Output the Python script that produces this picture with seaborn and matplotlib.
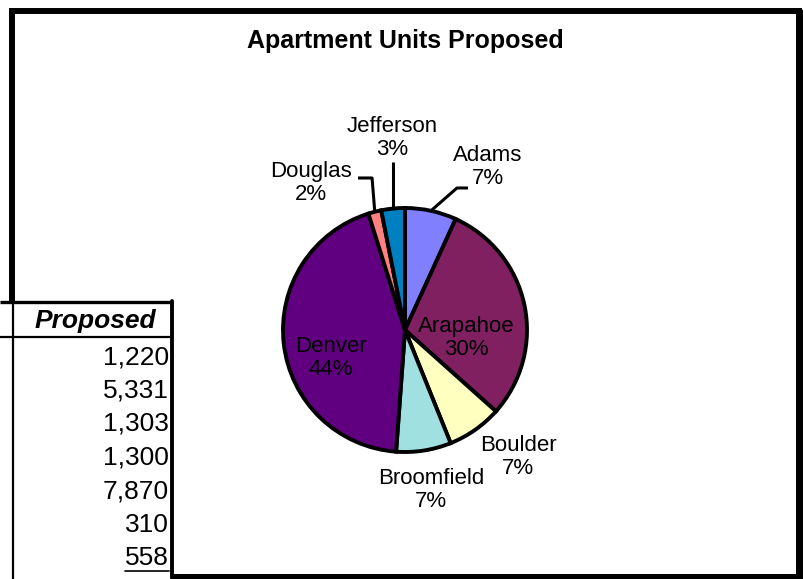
import matplotlib
matplotlib.use("Agg")
import matplotlib.pyplot as plt
from matplotlib.patches import Rectangle
import numpy as np
import seaborn as sns

# Apartment units proposed by county
counties = ["Adams", "Arapahoe", "Boulder", "Broomfield", "Denver", "Douglas", "Jefferson"]
units = [1220, 5331, 1303, 1300, 7870, 310, 558]
colors = ["#8080FF", "#802060", "#FFFFC0", "#A0E0E0", "#600080", "#FF8080", "#0080C0"]
title = "Apartment Units Proposed"
table_header = "Proposed"

sns.set_theme(style="white")
plt.rcParams["font.family"] = ["Liberation Sans", "DejaVu Sans"]
plt.rcParams["text.color"] = "black"

W, H = 804, 579
fig = plt.figure(figsize=(W / 100, H / 100), dpi=100)
fig.patch.set_facecolor("white")

# background canvas in pixel units (origin top-left)
bg = fig.add_axes([0, 0, 1, 1])
bg.set_xlim(0, W)
bg.set_ylim(H, 0)
bg.axis("off")

# chart frame
bg.add_patch(Rectangle((12, 11), 787, 566, facecolor="white", edgecolor="black",
                       linewidth=4.3, zorder=1))
bg.plot([802, 802], [11, 579], color="black", linewidth=2.5, zorder=1.1)
bg.text(405, 41, title, ha="center", va="center", fontsize=18, fontweight="bold",
        color="black", zorder=3)

# spreadsheet table overlapping the lower-left of the chart
bg.add_patch(Rectangle((0, 302), 172, 280, facecolor="white", edgecolor="none", zorder=2))
bg.plot([0, 171], [302, 302], color="black", linewidth=2.4, zorder=3, solid_capstyle="butt")
bg.plot([0, 171], [337, 337], color="black", linewidth=1.6, zorder=3, solid_capstyle="butt")
bg.plot([13.5, 13.5], [302, 579], color="black", linewidth=1.6, zorder=3)
bg.plot([172, 172], [301, 578], color="black", linewidth=2.8, zorder=3)
bg.text(156, 321, table_header, ha="right", va="center", fontsize=19,
        fontweight="bold", fontstyle="italic", color="black", zorder=4)
row_y0, row_step = 357, 33.5
num_texts = []
for i, v in enumerate(units):
    t = bg.text(169, row_y0 + row_step * i, f"{v:,}", ha="right", va="center",
                fontsize=19, color="black", zorder=4)
    num_texts.append(t)

# underline below the last value
fig.canvas.draw()
renderer = fig.canvas.get_renderer()
bb = num_texts[-1].get_window_extent(renderer).transformed(bg.transData.inverted())
bg.plot([bb.x0, bb.x1], [571, 571], color="black", linewidth=1.2, zorder=4)

# pie: centre (405, 330) px, radius 122 px
cx, cy, R, span = 405, 330, 122, 2.0
side = 2 * span * R
pax = fig.add_axes([(cx - side / 2) / W, (H - cy - side / 2) / H, side / W, side / H])
pax.patch.set_alpha(0)
wedges, _ = pax.pie(units, colors=colors, startangle=90, counterclock=False,
                    wedgeprops=dict(edgecolor="black", linewidth=2.8))
pax.set_xlim(-span, span)
pax.set_ylim(-span, span)
pax.axis("off")

total = sum(units)
# label anchor positions in pie-radius units
label_pos = {
    "Adams": (0.68, 1.336),
    "Arapahoe": (0.50, -0.066),
    "Boulder": (0.926, -1.041),
    "Broomfield": (0.213, -1.311),
    "Denver": (-0.607, -0.23),
    "Douglas": (-0.77, 1.205),
    "Jefferson": (-0.107, 1.574),
}
# leader elbows for the small outer slices
leaders = {
    "Adams": [(0.426, 1.164), (0.516, 1.164)],
    "Douglas": [(-0.27, 1.246), (-0.385, 1.246)],
    "Jefferson": [(-0.098, 1.377)],
}
for w, name, v in zip(wedges, counties, units):
    x, y = label_pos[name]
    pct = round(100 * v / total)
    pax.text(x, y, f"{name}\n{pct}%", ha="center", va="center", fontsize=16,
             linespacing=1.15, color="black")
    if name in leaders:
        mid = np.deg2rad((w.theta1 + w.theta2) / 2)
        pts = [(np.cos(mid), np.sin(mid))] + leaders[name]
        if name == "Jefferson":
            pts[1] = (pts[0][0], pts[1][1])
        xs, ys = zip(*pts)
        pax.plot(xs, ys, color="black", linewidth=2.2, solid_capstyle="butt")

fig.savefig("out.png", dpi=100, facecolor="white")
